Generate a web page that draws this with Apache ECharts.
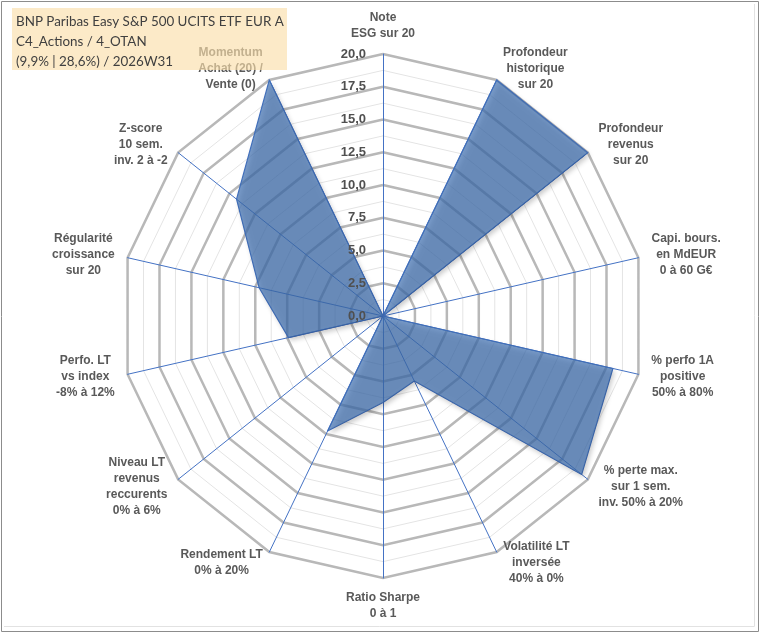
<!DOCTYPE html>
<html>
<head>
<meta charset="utf-8">
<script src="https://cdn.jsdelivr.net/npm/echarts@6/dist/echarts.min.js"></script>
<style>
  html, body { margin: 0; padding: 0; background: #fff; }
  #chart { width: 760px; height: 633px; }
</style>
</head>
<body>
<div id="chart"></div>
<script>
// radar axes, clockwise from the top
const indicators = [
  "Note\nESG sur 20",
  "Profondeur\nhistorique\nsur 20",
  "Profondeur\nrevenus\nsur 20",
  "Capi. bours.\nen MdEUR\n0 à 60 G€",
  "% perfo 1A\npositive\n50% à 80%",
  "% perte max.\nsur 1 sem.\ninv. 50% à 20%",
  "Volatilité LT\ninversée\n40% à 0%",
  "Ratio Sharpe\n0 à 1",
  "Rendement LT\n0% à 20%",
  "Niveau LT\nrevenus\nreccurents\n0% à 6%",
  "Perfo. LT\nvs index\n-8% à 12%",
  "Régularité\ncroissance\nsur 20",
  "Z-score\n10 sem.\ninv. 2 à -2",
  "Momentum\nAchat (20) /\nVente (0)"
]
const scores = [0, 20, 20, 0, 18, 19.4, 5.5, 6.6, 9.75, 0, 7.4, 9.7, 14.3, 20]
const titleLines = [
  "BNP Paribas Easy S&P 500 UCITS ETF EUR A",
  "C4_Actions / 4_OTAN",
  "(9,9% | 28,6%) / 2026W31"
]
const scaleMax = 20
const majorSteps = 8   // 2,5 per ring

const labelFont = 'bold 12px "Liberation Sans"'
const grey = '#595959'

// echarts lays radar axes out counter-clockwise, so flip the order after the first
const order = [0].concat(indicators.map((_, i) => i).slice(1).reverse())

// measure each name so its lines can be centred inside a fixed width block
const ctx = document.createElement('canvas').getContext('2d')
ctx.font = labelFont
function nameWidth(text) {
  return Math.ceil(Math.max(...text.split('\n').map(s => ctx.measureText(s).width))) + 2
}

function buildIndicators(mode) {
  return order.map((i, k) => {
    const ind = {name: indicators[i], min: 0, max: scaleMax}
    if (mode === 'names') ind.nameTextStyle = {rich: {c: {width: nameWidth(indicators[i])}}}
    if (mode === 'ticks' && k === 0) ind.axisLabel = {show: true}
    return ind
  })
}

const radarBase = {
  center: [383, 316],
  radius: 262,
  startAngle: 90,
  shape: 'polygon',
  splitArea: {show: false},
  axisTick: {show: false}
}

var chart = echarts.init(document.getElementById('chart'), null, {renderer: 'canvas'})

var option = {
  animation: false,
  radar: [
    Object.assign({}, radarBase, {
      // minor rings every 1,25
      z: 0,
      indicator: buildIndicators(null),
      splitNumber: majorSteps * 2,
      axisName: {show: false},
      axisLine: {show: false},
      axisLabel: {show: false},
      splitLine: {lineStyle: {color: '#e4e4e4', width: 1}}
    }),
    Object.assign({}, radarBase, {
      z: 0,
      indicator: buildIndicators('names'),
      splitNumber: majorSteps,
      axisNameGap: 12,
      axisName: {
        color: grey,
        fontFamily: 'Liberation Sans',
        fontWeight: 'bold',
        fontSize: 12,
        lineHeight: 16,
        formatter: name => name.split('\n').map(l => '{c|' + l + '}').join('\n'),
        rich: {
          c: {
            color: grey,
            fontFamily: 'Liberation Sans',
            fontWeight: 'bold',
            fontSize: 12,
            lineHeight: 16,
            align: 'center'
          }
        }
      },
      axisLine: {show: true, lineStyle: {color: '#4472C4', width: 1}},
      axisLabel: {show: false},
      splitLine: {lineStyle: {color: '#b8b8b8', width: 2.5}}
    }),
    // tick values only, kept above the filled area
    Object.assign({}, radarBase, {
      z: 5,
      indicator: buildIndicators('ticks'),
      splitNumber: majorSteps,
      axisName: {show: false},
      axisLine: {show: false},
      splitLine: {show: false},
      axisLabel: {
        show: false,
        color: '#505050',
        fontFamily: 'Liberation Sans',
        fontWeight: 'bold',
        fontSize: 13,
        margin: 17,
        showMinLabel: true,
        showMaxLabel: true,
        formatter: v => v.toFixed(1).replace('.', ',')
      }
    })
  ],
  series: [{
    type: 'radar',
    radarIndex: 1,
    z: 1,
    symbol: 'none',
    silent: true,
    lineStyle: {color: '#4472C4', width: 1.2},
    areaStyle: {
      color: '#3E6FB0',
      opacity: 0.7,
      shadowColor: 'rgba(0,0,0,0.3)',
      shadowBlur: 5,
      shadowOffsetX: 2,
      shadowOffsetY: 3
    },
    data: [{value: order.map(i => scores[i])}]
  }],
  graphic: [
    {
      type: 'rect', z: 0, silent: true,
      shape: {x: 1.5, y: 1.5, width: 757, height: 630},
      style: {fill: 'none', stroke: '#8c8c8c', lineWidth: 1}
    },
    {
      type: 'polyline', z: 0, silent: true,
      shape: {points: [[754.5, 4], [754.5, 626.5], [4, 626.5]]},
      style: {stroke: '#e2e2e2', lineWidth: 1}
    },
    {
      type: 'rect', z: 100, silent: true,
      shape: {x: 12, y: 8, width: 275, height: 62},
      style: {fill: 'rgba(251,222,170,0.65)'}
    },
    {
      type: 'text', z: 101, silent: true,
      left: 16, top: 12,
      style: {
        text: titleLines.join('\n'),
        fill: '#404040',
        font: '13.4px Lato',
        lineHeight: 20
      }
    }
  ]
}

chart.setOption(option)
</script>
</body>
</html>
